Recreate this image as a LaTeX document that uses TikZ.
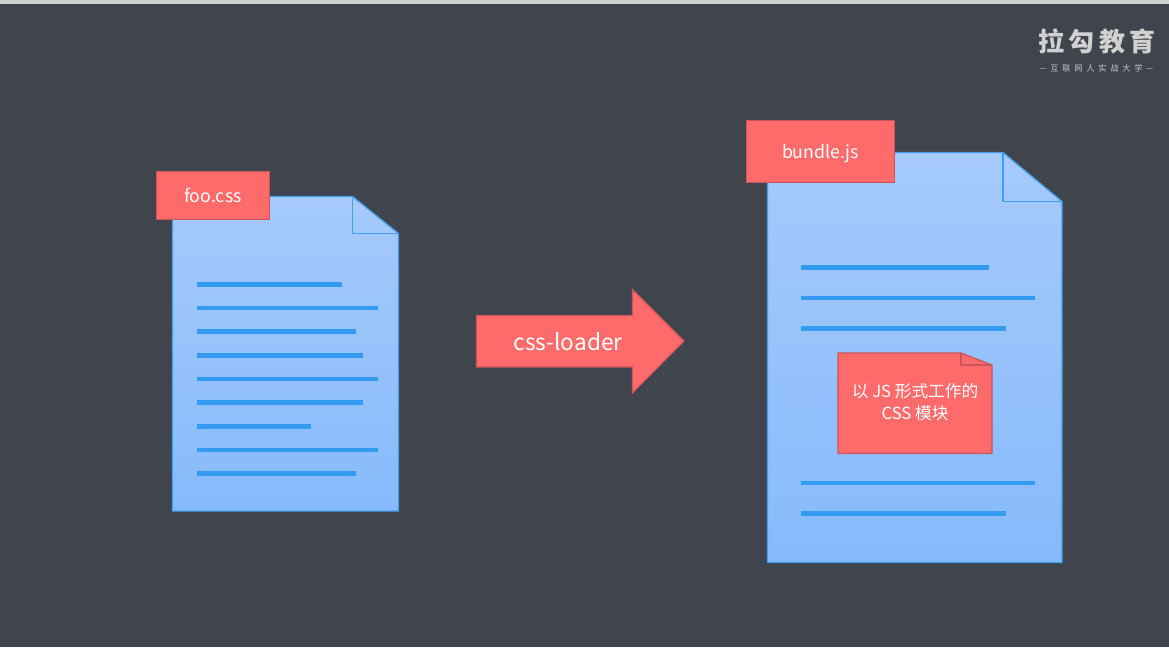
\documentclass[tikz,border=0pt]{standalone}
\usepackage{fontspec}
\setmainfont{Noto Sans CJK SC}
\definecolor{bgc}{HTML}{3F444D}
\definecolor{red1}{HTML}{FF6B6B}
\definecolor{redl}{HTML}{C9545C}
\definecolor{docl}{HTML}{42A0F0}
\definecolor{doct}{HTML}{A6CAFB}
\definecolor{docb}{HTML}{86BAFC}
\definecolor{bar}{HTML}{339CF2}
\tikzset{
  docshape/.style={draw=docl,line width=1pt,top color=doct,bottom color=docb,line join=miter},
  foldline/.style={draw=docl,line width=1pt},
  textbar/.style={draw=bar,line width=3.6pt},
  tagbox/.style={draw=redl,line width=0.9pt,fill=red1,text=white,inner sep=0pt,anchor=north west},
  tagshape/.style={draw=redl,line width=0.9pt,fill=red1},
  wlabel/.style={text=white,inner sep=0pt,align=center},
}
\begin{document}
\begin{tikzpicture}[x=0.75pt,y=-0.75pt]
\useasboundingbox (0,0) rectangle (1169,647);
\fill[bgc] (0,0) rectangle (1169,647);
\fill[fill=white!82!black] (0,0) rectangle (1169,3.5);
% left document
\path[docshape] (172.5,196.5) -- (352.5,196.5) -- (398.5,233.5) -- (398.5,511) -- (172.5,511) -- cycle;
\path[foldline] (352.5,196.5) -- (352.5,233.5) -- (398.5,233.5);
\foreach \ya/\xb in {284.5/342,308/378,331.5/355.5,355.3/363,379/378,402.7/363,426.3/311,450/378,473.7/355.5}
  \draw[textbar] (197.2,\ya) -- (\xb,\ya);
\node[tagbox,minimum width=113pt*0.75,minimum height=48pt*0.75] (foo) at (156,171) {};
\node[wlabel,font=\fontsize{13.3pt}{16pt}\selectfont] (footxt) at (213,195) {foo.css};
% arrow
\path[fill=red1,draw=redl,line width=0.8pt] (476.5,315.5) -- (632.5,315.5) -- (632.5,289.5) -- (684,341) -- (632.5,393) -- (632.5,367) -- (476.5,367) -- cycle;
\node[wlabel,font=\fontsize{17pt}{20pt}\selectfont] (arrowtxt) at (568,341.5) {css-loader};
% right document
\path[docshape] (767.5,152.5) -- (1003,152.5) -- (1062,201.5) -- (1062,562.5) -- (767.5,562.5) -- cycle;
\path[foldline] (1003,152.5) -- (1003,201.5) -- (1062,201.5);
\foreach \ya/\xb in {267.5/988.5,298/1035,328.5/1006,483/1035,513.5/1006}
  \draw[textbar] (800.5,\ya) -- (\xb,\ya);
\node[tagbox,minimum width=148pt*0.75,minimum height=62pt*0.75] (bundle) at (746,120) {};
\node[wlabel,font=\fontsize{13.3pt}{16pt}\selectfont] (bundletxt) at (820.5,153.5) {bundle.js};
% inner note
\path[tagshape] (838,353) -- (961,353) -- (992,365) -- (992,453.5) -- (838,453.5) -- cycle;
\path[draw=redl,line width=0.9pt] (961,353) -- (961,365) -- (992,365);
\node[wlabel,font=\fontsize{12.5pt}{16.5pt}\selectfont] (notetxt) at (915,402.5) {以 JS 形式工作的\\CSS 模块};
% logo
\node[wlabel,font=\fontsize{19.5pt}{24pt}\bfseries\selectfont,text=white!82!black] (logo) at (1097,41) {拉\hspace{3.3pt}勾\hspace{3.3pt}教\hspace{3.3pt}育};
\node[wlabel,font=\fontsize{6.2pt}{8pt}\selectfont,text=white!78!black] (slogan) at (1096.5,68) {—\hspace{2.5pt}互\hspace{2.8pt}联\hspace{2.8pt}网\hspace{2.8pt}人\hspace{2.8pt}实\hspace{2.8pt}战\hspace{2.8pt}大\hspace{2.8pt}学\hspace{2.5pt}—};
\end{tikzpicture}
\end{document}
